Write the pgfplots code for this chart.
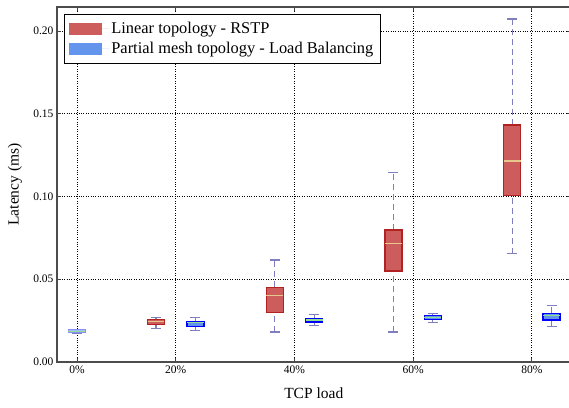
\documentclass[border=0pt]{standalone}
\usepackage{fontspec}
\setmainfont{Liberation Serif}
\usepackage{pgfplots}
\pgfplotsset{compat=1.18}
\usepgfplotslibrary{statistics}
\definecolor{redfill}{HTML}{CD5C5C}
\definecolor{rededge}{HTML}{B22222}
\definecolor{bluefill}{HTML}{6495ED}
\definecolor{blueedge}{HTML}{0000FF}
\definecolor{whisk}{HTML}{7F7FBF}
\definecolor{medred}{HTML}{E6C88C}
\definecolor{medblue}{HTML}{90E090}
\pgfplotsset{
  mywhiskers/.style={
    boxplot/draw direction=y,
    boxplot/draw/lower whisker/.code={%
      \draw[whisk, line width=1.2pt, dash pattern=on 6pt off 4pt]
        (boxplot cs:\pgfplotsboxplotvalue{lower whisker}) -- (boxplot cs:\pgfplotsboxplotvalue{lower quartile});
      \draw[whisk, line width=1.2pt, solid]
        (boxplot whisker cs:\pgfplotsboxplotvalue{lower whisker},0) -- (boxplot whisker cs:\pgfplotsboxplotvalue{lower whisker},1);
    },
    boxplot/draw/upper whisker/.code={%
      \draw[whisk, line width=1.2pt, dash pattern=on 6pt off 4pt]
        (boxplot cs:\pgfplotsboxplotvalue{upper quartile}) -- (boxplot cs:\pgfplotsboxplotvalue{upper whisker});
      \draw[whisk, line width=1.2pt, solid]
        (boxplot whisker cs:\pgfplotsboxplotvalue{upper whisker},0) -- (boxplot whisker cs:\pgfplotsboxplotvalue{upper whisker},1);
    },
    boxplot/box extend=0.143,
    boxplot/whisker extend=0.084,
  },
  redbox/.style={mywhiskers, solid, forget plot,
    boxplot/every box/.style={draw=rededge, fill=redfill, line width=1.3pt},
    boxplot/every median/.style={draw=medred, line width=1.2pt}},
  bluebox/.style={mywhiskers, solid, forget plot,
    boxplot/every box/.style={draw=blueedge, fill=bluefill, line width=1.3pt},
    boxplot/every median/.style={draw=medblue, line width=1.2pt}},
  zerobox/.style={mywhiskers, solid, forget plot,
    boxplot/every box/.style={draw=blueedge!45, fill=bluefill!60, line width=1.0pt},
    boxplot/every median/.style={draw=medblue, line width=1.0pt}},
}
\begin{document}
\begin{tikzpicture}
\begin{axis}[
  scale only axis, width=513.5pt, height=355pt,
  anchor=south west, at={(0pt,0pt)},
  xmin=1.0, xmax=5.326, ymin=0, ymax=0.2145,
  xtick={1.168,2,3,4,5}, xticklabels={0\%,20\%,40\%,60\%,80\%},
  ytick={0,0.05,0.10,0.15,0.20},
  scaled y ticks=false,
  y tick label style={/pgf/number format/fixed, /pgf/number format/fixed zerofill, /pgf/number format/precision=2},
  /pgf/number format/assume math mode=true,
  tick label style={font=\fontsize{11.5}{13}\selectfont},
  xlabel={TCP load}, ylabel={Latency (ms)},
  label style={font=\fontsize{15.5}{18}\selectfont},
  xlabel style={at={(axis description cs:0.5,-0.087)}, anchor=center},
  ylabel style={at={(axis description cs:-0.082,0.5)}, anchor=center},
  grid=major, major grid style={black, dotted, line width=0.8pt},
  tick align=inside, major tick length=4pt, tick style={black!75, line width=0.8pt},
  axis line style={black!70, line width=1.2pt},
  legend style={at={(0.0136,0.98)}, anchor=north west, draw=black, line width=0.8pt,
    font=\fontsize{16.4}{19}\selectfont, inner xsep=5pt, inner ysep=6pt, row sep=3pt, cells={anchor=west}},
  legend image code/.code={\fill[#1, draw=none] (0pt,-6pt) rectangle (33pt,6pt); \path[draw=none] (0pt,0pt) -- (40pt,0pt);},
]
\addlegendimage{fill=redfill}
\addlegendentry{Linear topology - RSTP}
\addlegendimage{fill=bluefill}
\addlegendentry{Partial mesh topology - Load Balancing}

\addplot[zerobox, boxplot prepared={draw position=1.168, lower whisker=0.0175, lower quartile=0.0179, median=0.0187, upper quartile=0.0194, upper whisker=0.0198}] coordinates {};

\addplot[redbox, boxplot prepared={draw position=1.834, lower whisker=0.0201, lower quartile=0.0228, median=0.0247, upper quartile=0.0256, upper whisker=0.0268}] coordinates {};
\addplot[bluebox, boxplot prepared={draw position=2.166, lower whisker=0.0189, lower quartile=0.0215, median=0.0240, upper quartile=0.0246, upper whisker=0.0268}] coordinates {};

\addplot[redbox, boxplot prepared={draw position=2.834, lower whisker=0.0181, lower quartile=0.0300, median=0.0403, upper quartile=0.0451, upper whisker=0.0616}] coordinates {};
\addplot[bluebox, boxplot prepared={draw position=3.166, lower whisker=0.0219, lower quartile=0.0242, median=0.0254, upper quartile=0.0264, upper whisker=0.0286}] coordinates {};

\addplot[redbox, boxplot prepared={draw position=3.834, lower whisker=0.0181, lower quartile=0.0550, median=0.0717, upper quartile=0.0798, upper whisker=0.1146}] coordinates {};
\addplot[bluebox, boxplot prepared={draw position=4.166, lower whisker=0.0237, lower quartile=0.0258, median=0.0268, upper quartile=0.0280, upper whisker=0.0292}] coordinates {};

\addplot[redbox, boxplot prepared={draw position=4.834, lower whisker=0.0654, lower quartile=0.1005, median=0.1215, upper quartile=0.1432, upper whisker=0.2073}] coordinates {};
\addplot[bluebox, boxplot prepared={draw position=5.166, lower whisker=0.0213, lower quartile=0.0254, median=0.0280, upper quartile=0.0294, upper whisker=0.0340}] coordinates {};
\end{axis}
\pgfresetboundingbox
\path (-57pt,-45pt) rectangle (512pt,362pt);
\end{tikzpicture}
\end{document}
